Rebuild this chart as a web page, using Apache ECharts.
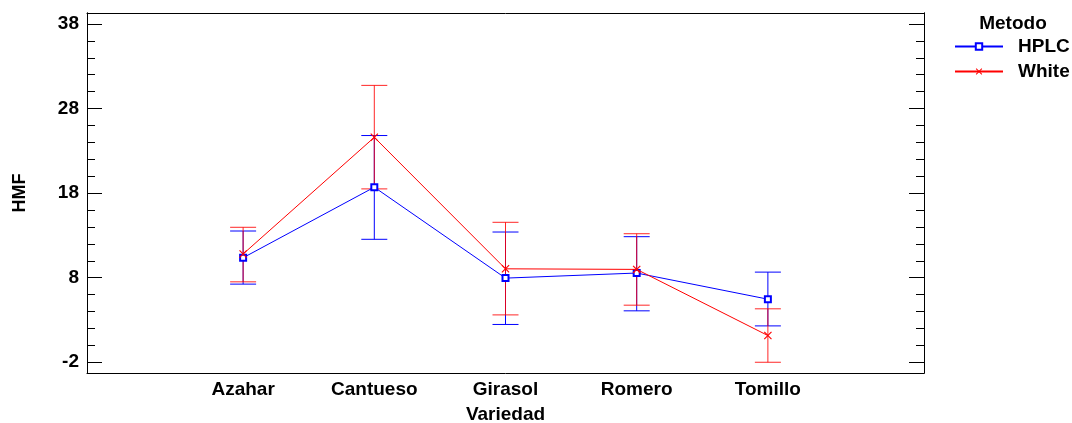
<!DOCTYPE html>
<html><head><meta charset="utf-8">
<script src="https://cdn.jsdelivr.net/npm/echarts@6/dist/echarts.min.js"></script>
<style>html,body{margin:0;padding:0;background:#fff}#c{width:1072px;height:423px}</style>
</head><body><div id="c"></div>
<script>
const categories = ['Azahar', 'Cantueso', 'Girasol', 'Romero', 'Tomillo'];
const seriesNames = ['HPLC', 'White'];
const hplcMean = [10.36, 18.7, 7.95, 8.55, 5.46];
const hplcLow  = [7.24, 12.54, 2.47, 4.08, 2.30];
const hplcHigh = [13.52, 24.81, 13.40, 12.85, 8.66];
const whiteMean = [10.8, 24.6, 9.05, 8.98, 1.16];
const whiteLow  = [7.51, 18.5, 3.6, 4.75, -2.0];
const whiteHigh = [13.96, 30.74, 14.55, 13.2, 4.32];
const yMajorTicks = [-2, 8, 18, 28, 38];
const yMinorTicks = [0, 2, 4, 6, 10, 12, 14, 16, 20, 22, 24, 26, 30, 32, 34, 36];

const FONT = 'Liberation Sans';
const FS = 19;
const BLUE = '#0000ff', RED = '#ff0000';
const xPos = categories.map((c, i) => i + 1);
const yMin = -3.27, yMax = 39.3;

function meanData(m) { return m.map((v, i) => [xPos[i], v]); }
function barData(lo, hi) { return lo.map((v, i) => [xPos[i], v, hi[i]]); }

function errRender(color, op) {
  return function (params, api) {
    const x = api.value(0);
    const a = api.coord([x, api.value(1)]);
    const b = api.coord([x, api.value(2)]);
    const hw = 13;
    const st = { stroke: color, lineWidth: 1, opacity: op };
    return {
      type: 'group',
      children: [
        { type: 'line', shape: { x1: a[0], y1: a[1], x2: b[0], y2: b[1] }, style: st },
        { type: 'line', shape: { x1: a[0] - hw, y1: a[1], x2: a[0] + hw, y2: a[1] }, style: st },
        { type: 'line', shape: { x1: b[0] - hw, y1: b[1], x2: b[0] + hw, y2: b[1] }, style: st }
      ]
    };
  };
}

function yAx(pos, ticks, len, labels, name) {
  return {
    type: 'value', position: pos, min: yMin, max: yMax,
    axisLine: { show: true, onZero: false, lineStyle: { color: '#000', width: 1 } },
    axisTick: { show: true, inside: true, length: len, customValues: ticks, lineStyle: { color: '#000', width: 1 } },
    axisLabel: labels ? { show: true, customValues: ticks, margin: 8, fontFamily: FONT, fontWeight: 'bold', fontSize: FS, color: '#000' } : { show: false },
    splitLine: { show: false },
    name: name || '', nameLocation: 'middle', nameGap: 58, nameRotate: 90,
    nameTextStyle: { fontFamily: FONT, fontWeight: 'bold', fontSize: 18, color: '#000' }
  };
}

const chart = echarts.init(document.getElementById('c'), null, { renderer: 'canvas' });
chart.setOption({
  backgroundColor: '#fff',
  animation: false,
  title: {
    text: 'Metodo', left: 1013, top: 14, textAlign: 'center', padding: 0,
    textStyle: { fontFamily: FONT, fontWeight: 'bold', fontSize: FS, color: '#000' }
  },
  legend: {
    data: seriesNames, orient: 'vertical', left: 954, top: 37, padding: 0,
    itemWidth: 48, itemHeight: 8, itemGap: 6,
    textStyle: { fontFamily: FONT, fontWeight: 'bold', fontSize: FS, color: '#000', padding: [0, 0, 0, 10] }
  },
  grid: { left: 87, right: 148, top: 13, bottom: 50, outerBoundsMode: 'none', containLabel: false },
  xAxis: [
    {
      type: 'value', position: 'bottom', min: -0.19, max: 6.19,
      axisLine: { show: true, onZero: false, lineStyle: { color: '#000', width: 1 } },
      axisTick: { show: false }, splitLine: { show: false },
      axisLabel: { show: true, customValues: xPos, formatter: v => categories[Math.round(v) - 1] || '',
        margin: 7, fontFamily: FONT, fontWeight: 'bold', fontSize: FS, color: '#000' },
      name: 'Variedad', nameLocation: 'middle', nameGap: 32,
      nameTextStyle: { fontFamily: FONT, fontWeight: 'bold', fontSize: FS, color: '#000' }
    },
    {
      type: 'value', position: 'top', min: -0.19, max: 6.19,
      axisLine: { show: true, onZero: false, lineStyle: { color: '#000', width: 1 } },
      axisTick: { show: false }, axisLabel: { show: false }, splitLine: { show: false }
    }
  ],
  yAxis: [
    yAx('left', yMajorTicks, 15, true, 'HMF'),
    yAx('left', yMinorTicks, 8, false),
    yAx('right', yMajorTicks, 15, false),
    yAx('right', yMinorTicks, 8, false)
  ],
  series: [
    { type: 'custom', name: 'errH', renderItem: errRender(BLUE, 1), data: barData(hplcLow, hplcHigh),
      encode: { x: 0, y: [1, 2] }, z: 2 },
    { type: 'custom', name: 'errW', renderItem: errRender(RED, 0.85), data: barData(whiteLow, whiteHigh),
      encode: { x: 0, y: [1, 2] }, z: 2 },
    { type: 'line', name: 'HPLC', data: meanData(hplcMean), z: 3,
      lineStyle: { color: BLUE, width: 1 }, itemStyle: { color: BLUE, borderColor: BLUE, borderWidth: 1 },
      symbol: 'emptyRect', symbolSize: 6 },
    { type: 'line', name: 'White', data: meanData(whiteMean), z: 4,
      lineStyle: { color: RED, width: 1 }, itemStyle: { color: RED },
      symbol: 'path://M0,1L1,0L10,9L9,10Z M9,0L10,1L1,10L0,9Z', symbolSize: 8 }
  ]
});
</script></body></html>
